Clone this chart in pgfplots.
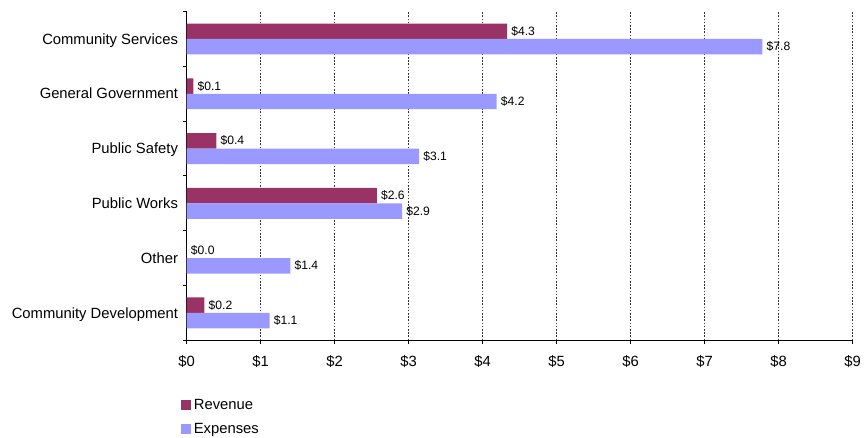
\documentclass[border=0pt]{standalone}
\usepackage{fontspec}
\setmainfont{Liberation Sans}
\usepackage{pgfplots}
\pgfplotsset{compat=1.18}
\definecolor{rev}{HTML}{993366}
\definecolor{expc}{HTML}{9999FF}
\begin{document}
\begin{tikzpicture}
\useasboundingbox (-140pt,-73.3pt) rectangle (509.5pt,255.2pt);
\begin{axis}[
 at={(0,0)}, anchor=south west,
 scale only axis, width=499.5pt, height=246.5pt,
 xmin=0, xmax=9, ymin=-0.5, ymax=5.5,
 axis x line=bottom, axis y line=left,
 x axis line style={-, line width=0.8pt},
 y axis line style={-, line width=0.8pt},
 xtick={0,...,9},
 xticklabel={\$\pgfmathprintnumber{\tick}},
 /pgf/number format/assume math mode=true,
 tick align=outside, major tick length=3pt,
 tick style={black, line width=0.8pt},
 xmajorgrids,
 grid style={black!80, dash pattern=on 1.2pt off 1.2pt, line width=0.7pt},
 ytick={-0.5,0.5,...,5.5},
 y tick label as interval,
 yticklabels={Community Development,Other,Public Works,Public Safety,General Government,Community Services},
 tick label style={font=\fontsize{11.1}{13}\selectfont},
 xticklabel style={yshift=-5pt},
 yticklabel style={anchor=base east, yshift=-3.9pt},
 point meta=x,
 nodes near coords={\$\pgfmathprintnumber[fixed,fixed zerofill,precision=1]{\pgfplotspointmeta}},
 nodes near coords style={font=\fontsize{9.1}{10}\selectfont, anchor=west, inner xsep=3pt, text=black},
 legend style={at={(0,0)}, anchor=north west, xshift=-4.3pt, yshift=-41.8pt,
   draw=none, fill=none, inner sep=0pt, row sep=5pt, font=\fontsize{11.1}{13}\selectfont},
 legend cell align=left,
]
\addplot[xbar, bar width=11.6pt, bar shift=5.8pt, fill=rev, draw=none,
  nodes near coords style={yshift=5.8pt},
  legend image code/.code={\fill[rev] (0pt,-3.75pt) rectangle (7.5pt,3.75pt);}]
  coordinates {(0.24,0) (0,1) (2.57,2) (0.40,3) (0.09,4) (4.33,5)};
\addplot[xbar, bar width=11.6pt, bar shift=-5.8pt, fill=expc, draw=none,
  nodes near coords style={yshift=-5.8pt},
  legend image code/.code={\fill[expc] (0pt,-3.75pt) rectangle (7.5pt,3.75pt);}]
  coordinates {(1.12,0) (1.40,1) (2.91,2) (3.14,3) (4.19,4) (7.78,5)};
\legend{Revenue,Expenses}
\end{axis}
\end{tikzpicture}
\end{document}
